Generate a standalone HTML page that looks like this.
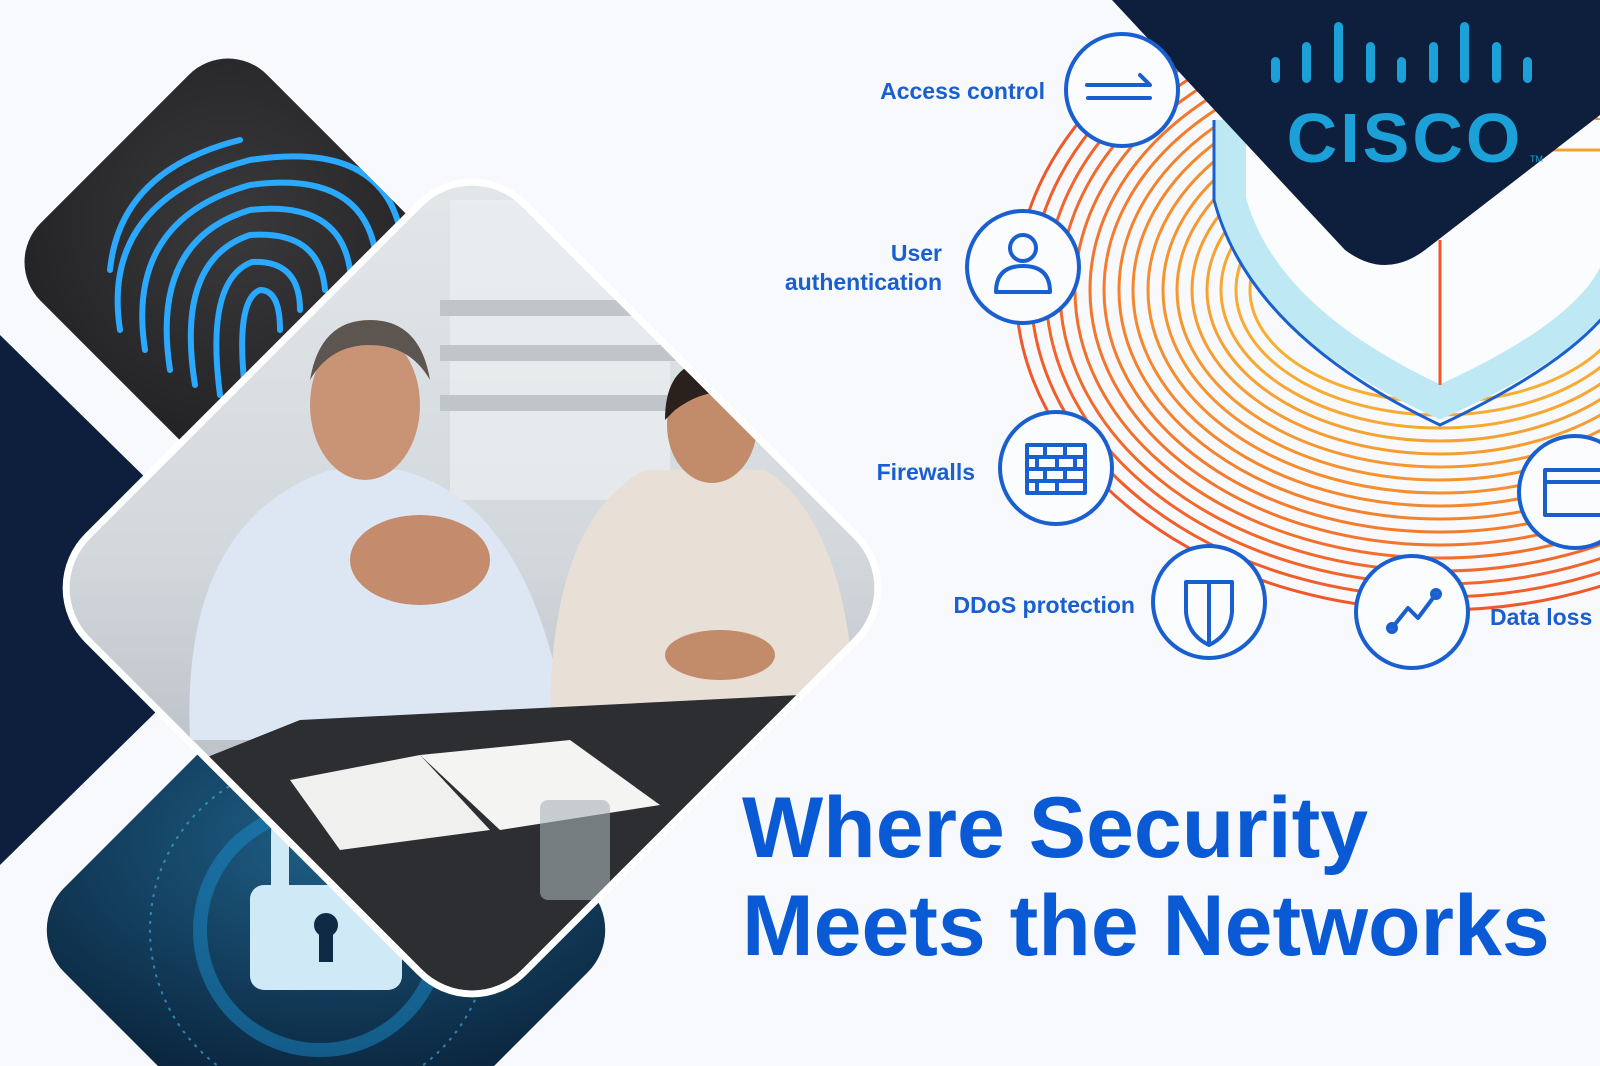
<!DOCTYPE html>
<html><head><meta charset="utf-8"><style>
html,body{margin:0;padding:0;background:#f7f9fc;}
svg{display:block}
</style></head><body>
<svg width="1600" height="1066" viewBox="0 0 1600 1066" xmlns="http://www.w3.org/2000/svg">
<defs>
<clipPath id="cp"><rect x="-305" y="-305" width="610" height="610" rx="70" transform="translate(472,588) rotate(45)"/></clipPath>
<clipPath id="cf"><rect x="-160" y="-160" width="320" height="320" rx="55" transform="translate(228,262) rotate(45)"/></clipPath>
<clipPath id="cl"><rect x="-215" y="-215" width="430" height="430" rx="60" transform="translate(326,930) rotate(45)"/></clipPath>
<linearGradient id="gp" x1="0" y1="0" x2="0" y2="1"><stop offset="0" stop-color="#e3e7ea"/><stop offset="0.45" stop-color="#d3d8dc"/><stop offset="0.7" stop-color="#bcc3c9"/><stop offset="1" stop-color="#3a3d42"/></linearGradient>
<radialGradient id="gl" cx="0.5" cy="0.4" r="0.6"><stop offset="0" stop-color="#1e5f86"/><stop offset="1" stop-color="#0b2740"/></radialGradient>
<radialGradient id="gf" cx="0.5" cy="0.4" r="0.6"><stop offset="0" stop-color="#3a3a3c"/><stop offset="1" stop-color="#1d1c1f"/></radialGradient>
</defs>

<polygon points="0,335 270,600 0,865" fill="#0e1f3d"/>

<g clip-path="url(#cf)">
<rect x="0" y="40" width="460" height="460" fill="url(#gf)"/>
<g fill="none" stroke="#2aa9ff" stroke-width="6" stroke-linecap="round">
<path d="M120,330 Q100,200 250,160 Q380,140 400,230"/>
<path d="M145,350 Q125,220 250,185 Q360,170 375,250"/>
<path d="M170,370 Q150,240 250,210 Q340,200 350,270"/>
<path d="M195,385 Q175,260 250,235 Q320,230 325,290"/>
<path d="M220,395 Q205,280 252,262 Q300,260 300,310"/>
<path d="M245,390 Q235,300 260,290 Q280,290 280,330"/>
<path d="M110,270 Q120,170 240,140"/>
</g>
</g>

<g clip-path="url(#cl)">
<rect x="0" y="680" width="660" height="400" fill="url(#gl)"/>
<circle cx="320" cy="930" r="170" fill="none" stroke="#3fa8e0" stroke-width="2" stroke-dasharray="3 6" opacity="0.7"/>
<circle cx="320" cy="930" r="120" fill="none" stroke="#1a8ccc" stroke-width="14" opacity="0.5"/>
<rect x="250" y="885" width="152" height="105" rx="14" fill="#cfe9f7"/>
<path d="M280,885 V835 Q280,790 325,790" fill="none" stroke="#cfe9f7" stroke-width="18"/>
<circle cx="326" cy="925" r="12" fill="#0e2a45"/><rect x="319" y="930" width="14" height="32" fill="#0e2a45"/>
</g>

<g>
<rect x="-305" y="-305" width="610" height="610" rx="70" transform="translate(472,588) rotate(45)" fill="#fff" stroke="#fff" stroke-width="14"/>
<g clip-path="url(#cp)">
<rect x="50" y="170" width="860" height="840" fill="url(#gp)"/>
<rect x="450" y="200" width="220" height="300" fill="#eceff1" opacity="0.7"/>
<rect x="440" y="300" width="240" height="16" fill="#c0c5ca"/>
<rect x="440" y="345" width="240" height="16" fill="#c0c5ca"/>
<rect x="440" y="395" width="240" height="16" fill="#c0c5ca"/>
<path d="M190,740 Q180,520 330,470 L400,470 Q520,500 560,690 L545,740 Z" fill="#dde6f3"/>
<ellipse cx="365" cy="405" rx="55" ry="75" fill="#c99476"/>
<path d="M310,380 Q320,320 370,320 Q420,320 430,380 Q410,345 370,345 Q330,345 310,380Z" fill="#5c5550"/>
<ellipse cx="420" cy="560" rx="70" ry="45" fill="#c48b6c"/>
<path d="M550,720 Q550,520 645,470 L765,470 Q845,520 855,700 Z" fill="#e8e0d6"/>
<ellipse cx="712" cy="425" rx="45" ry="58" fill="#c28b6a"/>
<path d="M665,420 Q665,360 715,360 Q765,365 765,430 L755,400 Q715,380 675,410Z" fill="#2a201c"/>
<ellipse cx="720" cy="655" rx="55" ry="25" fill="#c28b6a"/>
<path d="M200,760 L300,720 L900,690 L900,1000 L200,1000 Z" fill="#2c2e31"/>
<path d="M290,780 L420,755 L490,830 L340,850 Z" fill="#f0f0ee"/>
<path d="M420,755 L570,740 L660,805 L500,830 Z" fill="#f4f4f2"/>
<rect x="540" y="800" width="70" height="100" rx="8" fill="#a9b2b8" opacity="0.6"/>
</g>
</g>

<g fill="none" stroke-width="3">
<ellipse cx="1440" cy="290" rx="424" ry="320" stroke="#f0582a"/>
<ellipse cx="1440" cy="290" rx="409" ry="307" stroke="#f15e2a"/>
<ellipse cx="1440" cy="290" rx="394" ry="294" stroke="#f2642a"/>
<ellipse cx="1440" cy="290" rx="380" ry="281" stroke="#f26a2b"/>
<ellipse cx="1440" cy="290" rx="365" ry="268" stroke="#f3702b"/>
<ellipse cx="1440" cy="290" rx="350" ry="255" stroke="#f3762c"/>
<ellipse cx="1440" cy="290" rx="336" ry="242" stroke="#f47c2c"/>
<ellipse cx="1440" cy="290" rx="321" ry="229" stroke="#f4822d"/>
<ellipse cx="1440" cy="290" rx="307" ry="216" stroke="#f5882d"/>
<ellipse cx="1440" cy="290" rx="292" ry="203" stroke="#f58e2e"/>
<ellipse cx="1440" cy="290" rx="277" ry="190" stroke="#f6932e"/>
<ellipse cx="1440" cy="290" rx="263" ry="177" stroke="#f6982f"/>
<ellipse cx="1440" cy="290" rx="248" ry="164" stroke="#f79d2f"/>
<ellipse cx="1440" cy="290" rx="233" ry="151" stroke="#f7a230"/>
<ellipse cx="1440" cy="290" rx="219" ry="138" stroke="#f8a730"/>
<ellipse cx="1440" cy="290" rx="204" ry="125" stroke="#f8ab31"/>
<ellipse cx="1440" cy="290" rx="190" ry="112" stroke="#f8ae31"/>
</g>

<path d="M1230,120 L1230,200 Q1260,320 1440,400 Q1600,330 1620,260 L1620,120 Z" fill="#fbfcfd"/>
<path d="M1230,120 L1230,200 Q1262,320 1440,402 Q1600,330 1620,260" fill="none" stroke="#bfe8f5" stroke-width="32"/>
<path d="M1214,120 L1214,200 Q1250,335 1440,425 Q1610,345 1630,270" fill="none" stroke="#1a5fd0" stroke-width="3"/>
<path d="M1440,385 L1440,240" stroke="#f0582a" stroke-width="3"/>
<path d="M1540,150 L1600,150" stroke="#f7a230" stroke-width="3"/>

<path d="M1112,0 L1600,0 L1600,115 L1425,250 Q1385,280 1345,250 Z" fill="#0e1f3d"/>
<g fill="#1ba0d7">
<rect x="1271" y="57" width="9" height="26" rx="4.5"/>
<rect x="1302" y="42" width="9" height="41" rx="4.5"/>
<rect x="1334" y="22" width="9" height="61" rx="4.5"/>
<rect x="1366" y="42" width="9" height="41" rx="4.5"/>
<rect x="1397" y="57" width="9" height="26" rx="4.5"/>
<rect x="1429" y="42" width="9" height="41" rx="4.5"/>
<rect x="1460" y="22" width="9" height="61" rx="4.5"/>
<rect x="1492" y="42" width="9" height="41" rx="4.5"/>
<rect x="1523" y="57" width="9" height="26" rx="4.5"/>
</g>
<text x="1405" y="162" text-anchor="middle" font-family="Liberation Sans, sans-serif" font-weight="bold" font-size="70" fill="#1ba0d7" letter-spacing="3">CISCO</text>
<text x="1530" y="162" font-family="Liberation Sans, sans-serif" font-size="9" fill="#1ba0d7">TM</text>

<g fill="#fbfcfd" stroke="#1a5fd0" stroke-width="4">
<circle cx="1122" cy="90" r="56"/>
<circle cx="1023" cy="267" r="56"/>
<circle cx="1056" cy="468" r="56"/>
<circle cx="1209" cy="602" r="56"/>
<circle cx="1412" cy="612" r="56"/>
<circle cx="1575" cy="492" r="56"/>
</g>
<g fill="none" stroke="#1a5fd0" stroke-width="4" stroke-linecap="round" stroke-linejoin="round">
<path d="M1087,85 H1150 L1140,75 M1088,98 H1150"/>
<circle cx="1023" cy="248" r="13"/><path d="M996,292 Q996,266 1023,266 Q1050,266 1050,292 Z"/>
<rect x="1027" y="445" width="58" height="48"/><path d="M1027,457 H1085 M1027,469 H1085 M1027,481 H1085 M1045,445 V457 M1065,445 V457 M1037,457 V469 M1057,457 V469 M1075,457 V469 M1045,469 V481 M1065,469 V481 M1037,481 V493 M1057,481 V493"/>
<path d="M1186,582 H1232 V612 Q1230,635 1209,645 Q1188,635 1186,612 Z M1209,582 V645"/>
<path d="M1392,628 L1408,608 L1418,618 L1436,594"/>
<circle cx="1392" cy="628" r="4"/><circle cx="1436" cy="594" r="4"/>
<rect x="1545" y="470" width="60" height="45"/><path d="M1545,482 H1605"/>
</g>

<g font-family="Liberation Sans, sans-serif" font-weight="bold" font-size="23" fill="#1a5fd0">
<text x="1045" y="99" text-anchor="end">Access control</text>
<text x="942" y="261" text-anchor="end">User</text>
<text x="942" y="290" text-anchor="end">authentication</text>
<text x="975" y="480" text-anchor="end">Firewalls</text>
<text x="1135" y="613" text-anchor="end">DDoS protection</text>
<text x="1490" y="625">Data loss</text>
</g>

<g font-family="Liberation Sans, sans-serif" font-weight="bold" font-size="86" fill="#0a5ad6">
<text x="742" y="857">Where Security</text>
<text x="742" y="955">Meets the Networks</text>
</g>
</svg>
</body></html>
